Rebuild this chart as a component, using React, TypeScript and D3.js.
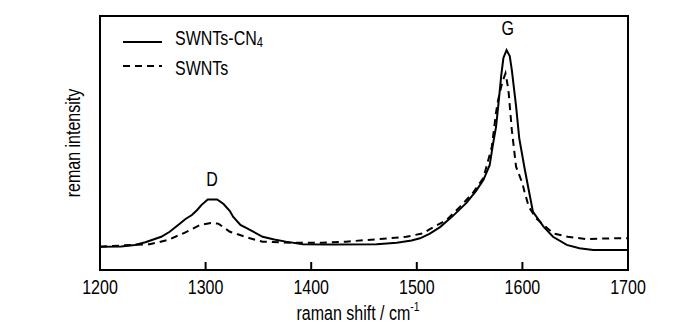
import React from "react";
import * as d3 from "d3";

// wavenumber (cm^-1) and intensity (a.u., G peak of SWNTs-CN4 = 1)
const cn4Shift = [1200, 1220, 1233, 1243, 1258, 1266, 1274, 1281, 1287, 1292, 1296, 1302, 1311, 1317, 1323, 1326, 1333, 1342, 1354, 1365, 1376, 1392, 1420, 1462, 1481, 1495, 1503, 1512, 1522, 1534, 1547, 1556, 1563, 1569, 1572, 1575, 1577, 1580, 1582, 1585, 1588, 1590, 1594, 1597, 1602, 1606, 1610, 1620, 1629, 1642, 1654, 1667, 1692, 1700];
const cn4Intensity = [0.106, 0.107, 0.114, 0.126, 0.151, 0.174, 0.205, 0.232, 0.25, 0.273, 0.295, 0.321, 0.321, 0.3, 0.268, 0.242, 0.205, 0.182, 0.151, 0.139, 0.129, 0.117, 0.116, 0.117, 0.124, 0.134, 0.144, 0.164, 0.195, 0.245, 0.305, 0.359, 0.409, 0.477, 0.568, 0.65, 0.741, 0.886, 0.964, 1.0, 0.973, 0.909, 0.745, 0.6, 0.464, 0.364, 0.264, 0.197, 0.151, 0.114, 0.099, 0.091, 0.091, 0.091];

const swntShift = [1200, 1230, 1247, 1264, 1279, 1295, 1305, 1312, 1323, 1342, 1354, 1380, 1410, 1433, 1465, 1490, 1506, 1512, 1528, 1541, 1553, 1563, 1571, 1575, 1577, 1581, 1584, 1586, 1587, 1590, 1594, 1600, 1602, 1606, 1613, 1629, 1643, 1660, 1687, 1700];
const swntIntensity = [0.106, 0.114, 0.117, 0.136, 0.167, 0.205, 0.214, 0.211, 0.174, 0.144, 0.129, 0.124, 0.124, 0.129, 0.141, 0.151, 0.167, 0.185, 0.227, 0.288, 0.35, 0.418, 0.559, 0.714, 0.773, 0.855, 0.894, 0.841, 0.805, 0.636, 0.47, 0.394, 0.356, 0.288, 0.235, 0.167, 0.151, 0.141, 0.144, 0.145];

const xTicks = [1200, 1300, 1400, 1500, 1600, 1700];
const legendLabels = ["SWNTs-CN", "SWNTs"];
const peakLabels = [
  { name: "D", shift: 1306, intensity: 0.38 },
  { name: "G", shift: 1586, intensity: 1.07 },
];

const W = 700;
const H = 332;
const left = 100;
const right = 628;
const top = 16;
const bottom = 270;

const FONT = "'Liberation Sans', Arial, sans-serif";
const SX = 0.8;

function T({ x, y, rotate = 0, anchor = "middle", size = 20, children }: any) {
  return (
    <text
      transform={`translate(${x},${y}) rotate(${rotate}) scale(${SX},1)`}
      textAnchor={anchor}
      fontFamily={FONT}
      fontSize={size}
      fill="#000"
    >
      {children}
    </text>
  );
}

export default function App() {
  const x = d3.scaleLinear().domain([1200, 1700]).range([left, right]);
  const y = d3.scaleLinear().domain([0, 1.155]).range([bottom, top]);

  const line = d3
    .line<[number, number]>()
    .x((d) => x(d[0]))
    .y((d) => y(d[1]))
    .curve(d3.curveLinear);

  const cn4 = cn4Shift.map((s, i) => [s, cn4Intensity[i]] as [number, number]);
  const swnt = swntShift.map((s, i) => [s, swntIntensity[i]] as [number, number]);

  return (
    <svg
      width={W}
      height={H}
      style={{ position: "absolute", left: 0, top: 0, background: "#fff" }}
    >
      <defs>
        <clipPath id="plot">
          <rect x={left} y={top} width={right - left} height={bottom - top} />
        </clipPath>
      </defs>
      <g clipPath="url(#plot)">
        <path d={line(swnt) || ""} fill="none" stroke="#000" strokeWidth={2} strokeDasharray="7,5" />
        <path d={line(cn4) || ""} fill="none" stroke="#000" strokeWidth={2} />
      </g>
      <rect x={left} y={top} width={right - left} height={bottom - top} fill="none" stroke="#000" strokeWidth={2} />
      {xTicks.map((t) => (
        <g key={t}>
          <line x1={x(t)} x2={x(t)} y1={bottom} y2={bottom - 8} stroke="#000" strokeWidth={2} />
          <T x={x(t)} y={294}>{t}</T>
        </g>
      ))}
      <text
        transform={`translate(${(left + right) / 2 - 6},320) scale(${SX},1)`}
        textAnchor="middle"
        fontFamily={FONT}
        fontSize={20}
      >
        raman shift / cm
        <tspan fontSize={13} dy={-9}>-1</tspan>
      </text>
      <T x={80} y={(top + bottom) / 2} rotate={-90}>reman intensity</T>
      {peakLabels.map((p) => (
        <T key={p.name} x={x(p.shift)} y={y(p.intensity)}>{p.name}</T>
      ))}
      {/* legend */}
      <line x1={123} x2={162} y1={42} y2={42} stroke="#000" strokeWidth={2} />
      <line x1={123} x2={162} y1={66} y2={66} stroke="#000" strokeWidth={2} strokeDasharray="7,5" />
      <text transform={`translate(175,45) scale(${SX},1)`} fontFamily={FONT} fontSize={20}>
        {legendLabels[0]}
        <tspan fontSize={14} dy={2}>4</tspan>
      </text>
      <T x={175} y={75} anchor="start">{legendLabels[1]}</T>
    </svg>
  );
}
